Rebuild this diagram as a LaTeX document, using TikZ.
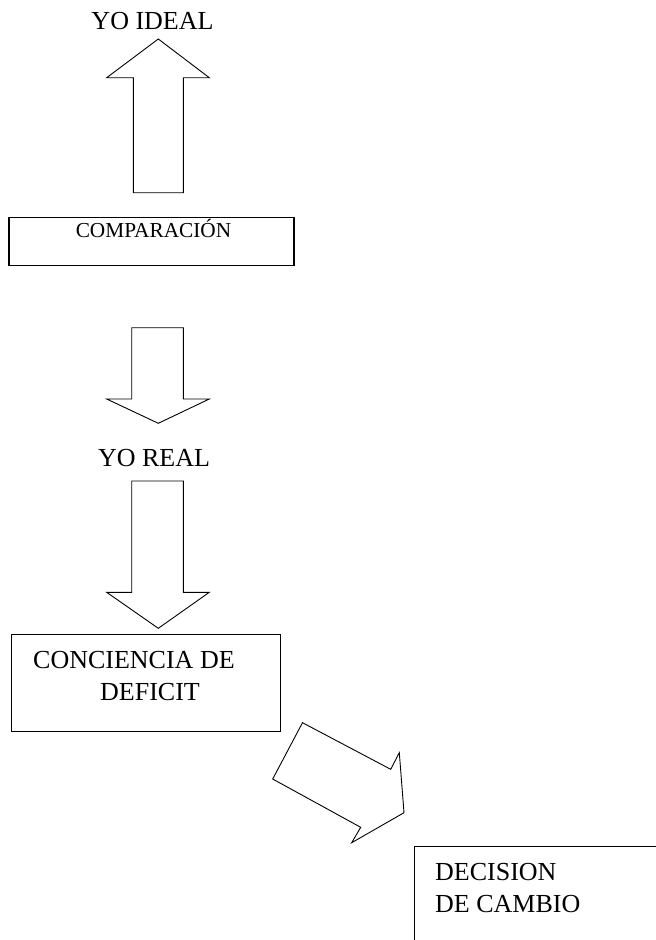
\documentclass[tikz,border=0pt]{standalone}
\usepackage{fontspec}
\setmainfont{Liberation Serif}
\begin{document}
\begin{tikzpicture}[x=1pt,y=-1pt,
  boxline/.style={draw=black,line width=1.2pt,fill=none},
  blockarrow/.style={draw=black,line width=0.9pt,line join=miter,fill=white},
  bigtxt/.style={inner sep=0pt,font=\fontsize{26}{30}\selectfont},
  smalltxt/.style={inner sep=0pt,font=\fontsize{21.3}{25}\selectfont}]
\useasboundingbox (0,0) rectangle (656,940);
% up arrow
\draw[blockarrow] (133.3,192.7) -- (133.3,77.7) -- (106.7,77.7) -- (158.3,39) -- (209.3,77.7) -- (183.3,77.7) -- (183.3,192.7) -- cycle;
% down arrow 1
\draw[blockarrow] (131.7,327.7) -- (183.3,327.7) -- (183.3,399) -- (209.3,399) -- (158.3,423.3) -- (106.7,399) -- (131.7,399) -- cycle;
% down arrow 2
\draw[blockarrow] (131.7,481) -- (183.3,481) -- (183.3,592.3) -- (209.3,592.3) -- (158.3,628.3) -- (106.7,592.3) -- (131.7,592.3) -- cycle;
% diagonal arrow
\draw[blockarrow] (302.5,722.7) -- (390.7,769.3) -- (399.3,752.7) -- (404,812.7) -- (351.7,842.7) -- (360.7,827.3) -- (272.7,779) -- cycle;
% boxes
\node[boxline,anchor=north west,minimum width=285pt,minimum height=48.3pt,inner sep=0pt] (cmpbox) at (8.3,216.7) {};
\node[boxline,anchor=north west,minimum width=269pt,minimum height=97pt,inner sep=0pt] (conbox) at (11,634) {};
\begin{scope}
\clip (0,0) rectangle (656,940);
\node[boxline,anchor=north west,minimum width=300pt,minimum height=150pt,inner sep=0pt] (decbox) at (414,846) {};
\end{scope}
% texts
\node[bigtxt,anchor=base] (ideal) at (152.5,29) {YO IDEAL};
\node[smalltxt,anchor=base] (cmp) at (153.5,237) {COMPARACIÓN};
\node[bigtxt,anchor=base] (real) at (154,466.7) {YO REAL};
\node[bigtxt,anchor=base west] (con1) at (33,668) {CONCIENCIA DE};
\node[bigtxt,anchor=base west] (con2) at (100,700) {DEFICIT};
\node[bigtxt,anchor=base west] (dec1) at (435,880) {DECISION};
\node[bigtxt,anchor=base west] (dec2) at (435,912) {DE CAMBIO};
\end{tikzpicture}
\end{document}
